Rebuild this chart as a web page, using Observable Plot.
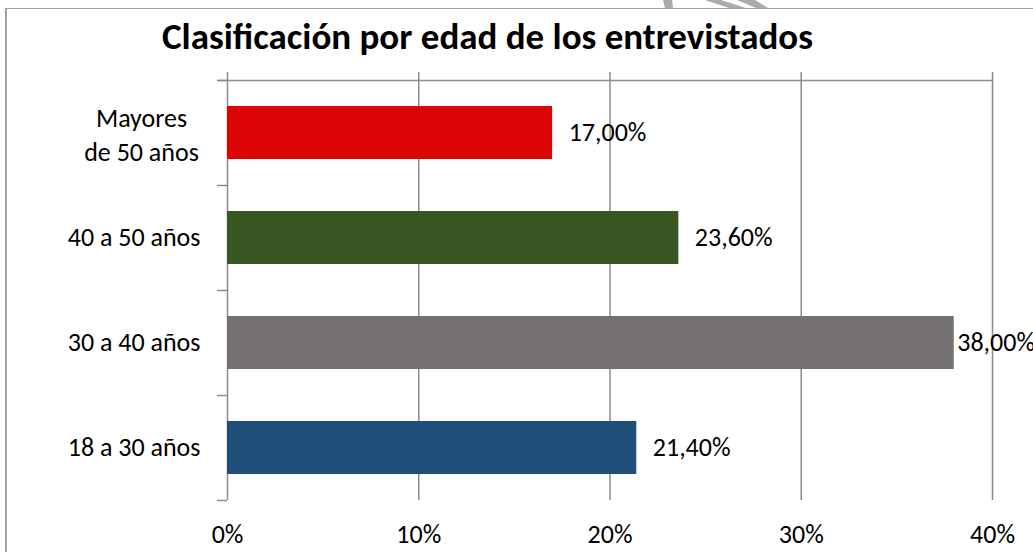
<!DOCTYPE html>
<html>
<head>
<meta charset="utf-8">
<script src="https://cdn.jsdelivr.net/npm/d3@7"></script>
<script src="https://cdn.jsdelivr.net/npm/@observablehq/plot@0.6"></script>
<style>
  html, body { margin: 0; padding: 0; background: white; overflow: hidden; }
  #wrap { position: relative; width: 1033px; height: 552px; overflow: hidden; background: white; }
  #border { position: absolute; left: 5px; top: 8px; width: 1200px; height: 700px;
            border-top: 1.5px solid #a0a0a0; border-left: 2px solid #a0a0a0; }
  #title { position: absolute; left: 0; top: 18px; width: 975px; text-align: center;
           font-family: Carlito, Calibri, Lato, sans-serif; font-weight: bold; font-size: 37px;
           line-height: 1; color: #000; white-space: nowrap; }
  #chart { position: absolute; left: 0; top: 0; }
  #mark { position: absolute; left: 0; top: 0; }
</style>
</head>
<body>
<div id="wrap">
  <svg id="mark" width="1033" height="10">
    <polygon points="663,0 672,0 673,8 665,8" fill="#ababab"/>
    <polygon points="705,0 721,0 746,8 729,8" fill="#ababab"/>
    <polygon points="737,0 755,0 768,8 756,8" fill="#ababab"/>
  </svg>
  <div id="border"></div>
  <div id="chart"></div>
  <div id="title">Clasificación por edad de los entrevistados</div>
</div>
<script>
// Data (bottom to top)
const categories = ["18 a 30 años", "30 a 40 años", "40 a 50 años", "Mayores\nde 50 años"];
const values = [21.4, 38.0, 23.6, 17.0];
const valueLabels = ["21,40%", "38,00%", "23,60%", "17,00%"];
const barColors = ["#1f4e79", "#767171", "#385723", "#dc0505"];
const tickValues = [0, 10, 20, 30, 40];
const tickLabels = ["0%", "10%", "20%", "30%", "40%"];
const boundaries = [0, 1, 2, 3, 4];

const data = categories.map((c, i) => ({cat: c, value: values[i], label: valueLabels[i], color: barColors[i], pos: i}));
const gridColor = "#8c8c8c";
const font = "Carlito, Calibri, Lato, sans-serif";
const fs = 26;

const chart = Plot.plot({
  width: 1033,
  height: 552,
  marginLeft: 227,
  marginRight: 41,
  marginTop: 80,
  marginBottom: 52,
  style: {fontFamily: font, fontSize: fs + "px", color: "#000", background: "transparent", overflow: "hidden"},
  x: {domain: [0, 40], axis: null, label: null},
  y: {type: "linear", domain: [0, 4], axis: null, label: null},
  color: {type: "identity"},
  marks: [
    Plot.ruleX(tickValues, {stroke: gridColor, strokeWidth: 1.5, insetTop: -8}),
    Plot.ruleY([4], {stroke: gridColor, strokeWidth: 1.5, insetLeft: -10}),
    Plot.ruleY(boundaries, {x1: 0, x2: 0, stroke: gridColor, strokeWidth: 1.5, insetLeft: -10}),
    Plot.rect(data, {x1: 0, x2: "value", y1: "pos", y2: d => d.pos + 1, insetTop: 26, insetBottom: 26, fill: "color"}),
    Plot.text(data.filter(d => d.value < 35), {x: "value", y: d => d.pos + 0.5, text: "label", textAnchor: "start", dx: 16, fontSize: fs, fill: "#000"}),
    Plot.text(data.filter(d => d.value >= 35), {x: "value", y: d => d.pos + 0.5, text: "label", textAnchor: "start", dx: 3, fontSize: fs, fill: "#000"}),
    Plot.text(data.filter(d => !d.cat.includes("\n")), {x: 0, y: d => d.pos + 0.5, text: "cat", textAnchor: "end", dx: -27, fontSize: fs, fill: "#000"}),
    Plot.text(data.filter(d => d.cat.includes("\n")), {x: 0, y: d => d.pos + 0.5, text: "cat", textAnchor: "middle", dx: -86, lineHeight: 1.3, fontSize: fs, fill: "#000"}),
    Plot.axisX(tickValues, {anchor: "bottom", tickSize: 0, tickPadding: 24, fontSize: fs, label: null,
      tickFormat: d => tickLabels[tickValues.indexOf(d)]})
  ]
});
document.getElementById("chart").appendChild(chart);
</script>
</body>
</html>
